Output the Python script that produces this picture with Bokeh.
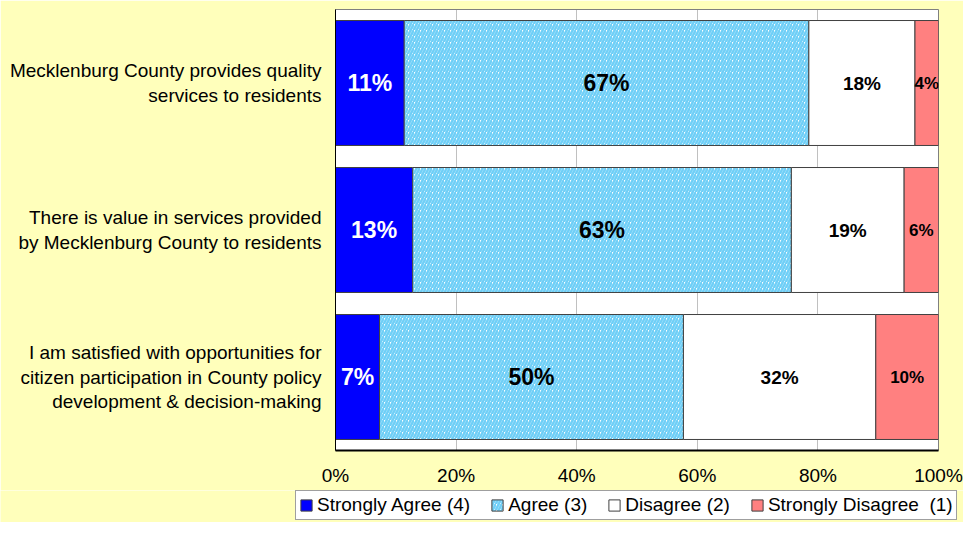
from bokeh.plotting import figure
from bokeh.models import ColumnDataSource, Legend, LegendItem, FactorRange, FixedTicker
from bokeh.core.properties import value
from bokeh.embed import file_html
from bokeh.resources import INLINE

categories = [
    "Mecklenburg County provides quality\nservices to residents",
    "There is value in services provided\nby Mecklenburg County to residents",
    "I am satisfied with opportunities for\ncitizen participation in County policy\ndevelopment & decision-making",
]
series = ["Strongly Agree (4)", "Agree (3)", "Disagree (2)", "Strongly Disagree  (1)"]
strongly_agree = [11.4, 12.8, 7.3]
agree = [67.1, 62.8, 50.4]
disagree = [17.6, 18.7, 31.9]
strongly_disagree = [3.9, 5.7, 10.4]
x_ticks = [0, 20, 40, 60, 80, 100]
x_tick_labels = ["0%", "20%", "40%", "60%", "80%", "100%"]

BG = "#FFFFBB"
FONT = "Liberation Sans"

p = figure(width=963, height=490, output_backend="svg", toolbar_location=None,
           x_range=(0, 100), y_range=FactorRange(factors=categories[::-1]),
           min_border_left=335, min_border_right=25, min_border_top=9, min_border_bottom=40)
p.background_fill_color = "white"
p.border_fill_color = BG
p.outline_line_color = "#808080"
p.outline_line_width = 1

values = [strongly_agree, agree, disagree, strongly_disagree]
fills = ["#0000FF", "white", "white", "#FF8080"]
hatches = [None, "/", None, None]
text_colors = ["white", "black", "black", "black"]
text_sizes = ["23px", "23px", "19px", "17px"]
HATCH = dict(hatch_color="#6FCFF7", hatch_scale=6, hatch_weight=2.5)

# legend figure (separate root, placed under the chart)
lg = figure(width=963, height=32, output_backend="svg", toolbar_location=None,
            x_range=(0, 1), y_range=(0, 1), min_border=0)
lg.axis.visible = False
lg.grid.visible = False
lg.outline_line_color = None
lg.background_fill_color = BG
lg.border_fill_color = BG

lefts = [0.0] * len(categories)
items = []
for i, name in enumerate(series):
    vals = values[i]
    rights = [l + v for l, v in zip(lefts, vals)]
    src = ColumnDataSource(dict(
        y=categories, left=lefts, right=rights,
        xc=[(l + r) / 2 for l, r in zip(lefts, rights)],
        lab=["%d%%" % round(v) for v in vals],
    ))
    kw = dict(hatch_pattern=hatches[i], **HATCH) if hatches[i] else {}
    p.hbar(y="y", left="left", right="right", height=0.85, source=src,
           fill_color=fills[i], line_color="#404040", line_width=1, **kw)
    p.text(x="xc", y="y", text="lab", source=src, text_align="center", text_baseline="middle",
           text_color=text_colors[i], text_font=value(FONT), text_font_style="bold",
           text_font_size=text_sizes[i])
    dummy = lg.hbar(y=[5], left=[5], right=[6], height=0.5,
                    fill_color=fills[i], line_color="#404040", line_width=1, **kw)
    items.append(LegendItem(label=name, renderers=[dummy]))
    lefts = rights

p.xgrid.grid_line_color = "#808080"
p.xgrid.grid_line_dash = "1 1"
p.ygrid.grid_line_color = None

p.xaxis.ticker = FixedTicker(ticks=x_ticks)
p.xaxis.major_label_overrides = {t: l for t, l in zip(x_ticks, x_tick_labels)}
p.xaxis.axis_line_color = "black"
p.xaxis.axis_line_width = 2
p.xaxis.major_tick_line_color = None
p.xaxis.minor_tick_line_color = None
p.xaxis.major_label_text_font = FONT
p.xaxis.major_label_text_font_size = "19px"
p.xaxis.major_label_text_color = "black"
p.xaxis.major_label_standoff = 8

p.yaxis.axis_line_color = "black"
p.yaxis.major_tick_line_color = None
p.yaxis.minor_tick_line_color = None
p.yaxis.major_label_text_font = FONT
p.yaxis.major_label_text_font_size = "19px"
p.yaxis.major_label_text_line_height = 1.15
p.yaxis.major_label_text_color = "black"
p.yaxis.major_label_standoff = 8

legend = Legend(items=items, orientation="horizontal", location=(295, 2))
legend.label_text_font = FONT
legend.label_text_font_size = "19px"
legend.label_text_color = "black"
legend.glyph_width = 14
legend.glyph_height = 14
legend.label_standoff = 4
legend.spacing = 20
legend.padding = 3
legend.margin = 0
legend.border_line_color = "#404040"
legend.border_line_width = 1.5
legend.background_fill_color = "white"
legend.background_fill_alpha = 1
lg.add_layout(legend, "center")

open("out.html", "w").write(file_html([p, lg], INLINE))
